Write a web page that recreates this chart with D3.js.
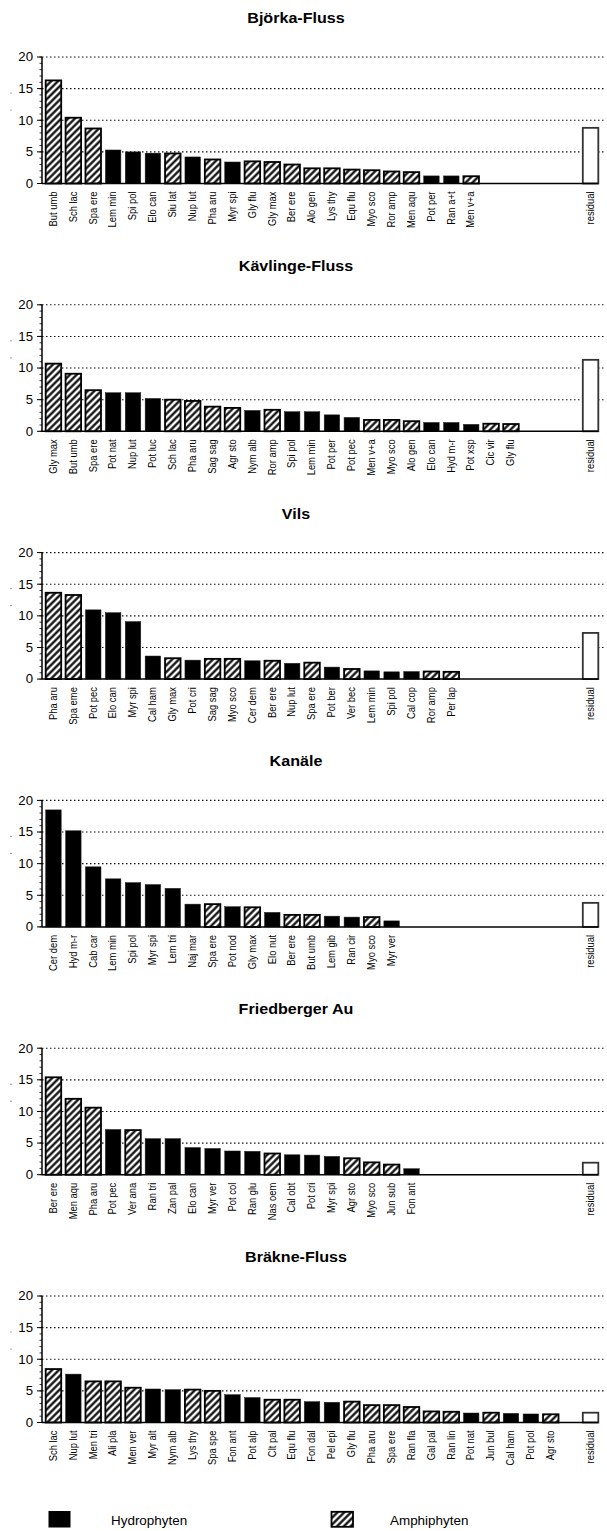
<!DOCTYPE html>
<html><head><meta charset="utf-8">
<script src="https://cdn.jsdelivr.net/npm/d3@7"></script>
<style>body{margin:0;background:#fff}svg{display:block}text{font-family:"Liberation Sans",Arial,sans-serif}</style>
</head><body>
<script>
const titles = ["Björka-Fluss","Kävlinge-Fluss","Vils","Kanäle","Friedberger Au","Bräkne-Fluss"];

const bjorkaNames = ["But umb","Sch lac","Spa ere","Lem min","Spi pol","Elo can","Siu lat","Nup lut","Pha aru","Myr spi","Gly flu","Gly max","Ber ere","Alo gen","Lys thy","Equ flu","Myo sco","Ror amp","Men aqu","Pot per","Ran a+t","Men v+a"];
const bjorkaValues = [16.3,10.4,8.7,5.3,5.0,4.8,4.75,4.2,3.8,3.4,3.5,3.4,3.0,2.4,2.4,2.2,2.1,1.9,1.8,1.2,1.2,1.15];
const bjorkaTypes = ["A","A","A","H","H","H","A","H","A","H","A","A","A","A","A","A","A","A","A","H","H","A"];

const kavlingeNames = ["Gly max","But umb","Spa ere","Pot nat","Nup lut","Pot luc","Sch lac","Pha aru","Sag sag","Agr sto","Nym alb","Ror amp","Spi pol","Lem min","Pot per","Pot pec","Men v+a","Myo sco","Alo gen","Elo can","Hyd m-r","Pot xsp","Cic vir","Gly flu"];
const kavlingeValues = [10.7,9.1,6.5,6.1,6.1,5.2,5.0,4.8,3.9,3.7,3.3,3.4,3.1,3.1,2.6,2.2,1.8,1.8,1.6,1.4,1.4,1.1,1.2,1.15];
const kavlingeTypes = ["A","A","A","H","H","H","A","A","A","A","H","A","H","H","H","H","A","A","A","H","H","H","A","A"];

const vilsNames = ["Pha aru","Spa eme","Pot pec","Elo can","Myr spi","Cal ham","Gly max","Pot cri","Sag sag","Myo sco","Cer dem","Ber ere","Nup lut","Spa ere","Pot ber","Ver bec","Lem min","Spi pol","Cal cop","Ror amp","Per lap"];
const vilsValues = [13.65,13.3,10.95,10.5,9.1,3.65,3.3,3.0,3.2,3.2,2.9,2.9,2.5,2.6,1.9,1.6,1.3,1.15,1.2,1.2,1.15];
const vilsTypes = ["A","A","H","H","H","H","A","H","A","A","H","A","H","A","H","A","H","H","H","A","A"];

const kanaeleNames = ["Cer dem","Hyd m-r","Cab car","Lem min","Spi pol","Myr spi","Lem tri","Naj mar","Spa ere","Pot nod","Gly max","Elo nut","Ber ere","But umb","Lem gib","Ran cir","Myo sco","Myr ver"];
const kanaeleValues = [18.5,15.2,9.5,7.6,7.0,6.7,6.1,3.6,3.6,3.2,3.1,2.3,1.9,1.9,1.7,1.55,1.55,0.95];
const kanaeleTypes = ["H","H","H","H","H","H","H","H","A","H","A","H","A","A","H","H","A","H"];

const friedbergNames = ["Ber ere","Men aqu","Pha aru","Pot pec","Ver ana","Ran tri","Zan pal","Elo can","Myr ver","Pot col","Ran glu","Nas oem","Cal obt","Pot cri","Myr spi","Agr sto","Myo sco","Jun sub","Fon ant"];
const friedbergValues = [15.4,12.0,10.6,7.15,7.05,5.7,5.7,4.3,4.15,3.75,3.7,3.35,3.15,3.1,2.9,2.6,1.95,1.6,0.95];
const friedbergTypes = ["A","A","A","H","A","H","H","H","H","H","H","A","H","H","H","A","A","A","H"];

const braekneNames = ["Sch lac","Nup lut","Men tri","Ali pla","Men ver","Myr alt","Nym alb","Lys thy","Spa spe","Fon ant","Pot alp","Clt pal","Equ flu","Fon dal","Pel epi","Gly flu","Pha aru","Spa ere","Ran fla","Gal pal","Ran lin","Pot nat","Jun bul","Cal ham","Pot pol","Agr sto"];
const braekneValues = [8.45,7.65,6.5,6.5,5.5,5.3,5.2,5.2,5.0,4.4,3.95,3.6,3.6,3.3,3.2,3.3,2.75,2.75,2.45,1.75,1.7,1.5,1.55,1.45,1.35,1.3];
const braekneTypes = ["A","H","A","A","A","H","H","A","A","H","H","A","A","H","H","A","A","A","A","A","A","H","A","H","H","A"];

const residualValues = [8.8,11.3,7.3,3.8,1.9,1.55];
const residualLabel = "residual";
const yTicks = [0,5,10,15,20];
const legendLabels = ["Hydrophyten","Amphiphyten"];

const panelNames = [bjorkaNames,kavlingeNames,vilsNames,kanaeleNames,friedbergNames,braekneNames];
const panelValues = [bjorkaValues,kavlingeValues,vilsValues,kanaeleValues,friedbergValues,braekneValues];
const panelTypes = [bjorkaTypes,kavlingeTypes,vilsTypes,kanaeleTypes,friedbergTypes,braekneTypes];

const W = 607, H = 1531;
const svg = d3.select("body").append("svg").attr("width", W).attr("height", H);
const defs = svg.append("defs");
const pat = defs.append("pattern").attr("id","hatch").attr("patternUnits","userSpaceOnUse")
  .attr("width",4.8).attr("height",4.8).attr("patternTransform","rotate(45)");
pat.append("rect").attr("width",4.8).attr("height",4.8).attr("fill","#fff");
pat.append("line").attr("x1",2.4).attr("y1",0).attr("x2",2.4).attr("y2",4.8).attr("stroke","#000").attr("stroke-width",2.2);

const SX = 1.1;
const axisX = 42;
const slots = d3.range(28);
const x = d3.scaleBand().domain(slots).range([43.5, 600.5]).paddingInner(0.22).paddingOuter(0.11);
const panelStep = 247.8, top0 = 57, plotH = 126.5;

titles.forEach((t, p) => {
  const T = top0 + panelStep * p;
  const y = d3.scaleLinear().domain([0, 20]).range([T + plotH, T]);
  const g = svg.append("g");
  g.append("text").attr("transform", `translate(296,${T - 34}) scale(1.15,1)`)
    .attr("text-anchor","middle").attr("font-size",14).attr("font-weight","bold").text(t);
  // grid
  g.selectAll(".grid").data(yTicks.filter(d => d > 0)).join("line")
    .attr("x1", axisX).attr("x2", 605).attr("y1", d => y(d)).attr("y2", d => y(d))
    .attr("stroke","#111").attr("stroke-width",1.1).attr("stroke-dasharray","1.5,2.5");
  // minor ticks
  g.selectAll(".mt").data(d3.range(0, 21)).join("line")
    .attr("x1", axisX - 2.5).attr("x2", axisX).attr("y1", d => y(d)).attr("y2", d => y(d))
    .attr("stroke","#000").attr("stroke-width",0.8);
  g.selectAll(".Mt").data(yTicks).join("line")
    .attr("x1", axisX - 5).attr("x2", axisX).attr("y1", d => y(d)).attr("y2", d => y(d))
    .attr("stroke","#000").attr("stroke-width",1);
  g.selectAll(".yl").data(yTicks).join("text")
    .attr("transform", d => `translate(33,${y(d) + 4.3}) scale(${SX},1)`)
    .attr("text-anchor","end").attr("font-size",12).text(d => d);
  // tiny y-axis title remnants
  g.selectAll(".dot").data([36, 53]).join("circle")
    .attr("cx", 11).attr("cy", d => T + d).attr("r", 0.6).attr("fill","#444");
  // bars
  const names = panelNames[p], vals = panelValues[p], types = panelTypes[p];
  const data = names.map((n, i) => ({n, v: vals[i], t: types[i], i}));
  data.push({n: residualLabel, v: residualValues[p], t: "R", i: 27});
  g.selectAll(".bar").data(data).join("rect")
    .attr("x", d => x(d.i)).attr("width", x.bandwidth())
    .attr("y", d => y(d.v)).attr("height", d => y(0) - y(d.v))
    .attr("fill", d => d.t === "H" ? "#000" : d.t === "A" ? "url(#hatch)" : "#fff")
    .attr("stroke", d => d.t === "H" ? "#222" : d.t === "A" ? "#000" : "#333")
    .attr("stroke-width", d => d.t === "H" ? 0.5 : 1.8);
  // axes
  g.append("line").attr("x1", axisX).attr("x2", axisX).attr("y1", y(20)).attr("y2", y(0))
    .attr("stroke","#000").attr("stroke-width",1.5);
  g.append("line").attr("x1", axisX).attr("x2", x(27) + x.bandwidth()).attr("y1", y(0)).attr("y2", y(0))
    .attr("stroke","#000").attr("stroke-width",1.5);
  // x labels
  g.selectAll(".xl").data(data).join("text")
    .attr("transform", d => `translate(${x(d.i) + x.bandwidth()/2 + 3.3},${y(0) + 8}) rotate(-90) scale(1,${SX})`)
    .attr("text-anchor","end").attr("font-size",9.4).text(d => d.n);
});

// legend
const ly = 1511;
svg.append("rect").attr("x",48.5).attr("y",ly).attr("width",22).attr("height",16.5).attr("fill","#000");
svg.append("text").attr("transform",`translate(111,${ly + 13.5}) scale(1.12,1)`).attr("font-size",12).text(legendLabels[0]);
svg.append("rect").attr("x",331.5).attr("y",ly + 0.8).attr("width",21.5).attr("height",15).attr("fill","url(#hatch)").attr("stroke","#000").attr("stroke-width",1.8);
svg.append("text").attr("transform",`translate(390,${ly + 13.5}) scale(1.12,1)`).attr("font-size",12).text(legendLabels[1]);
</script>
</body></html>
